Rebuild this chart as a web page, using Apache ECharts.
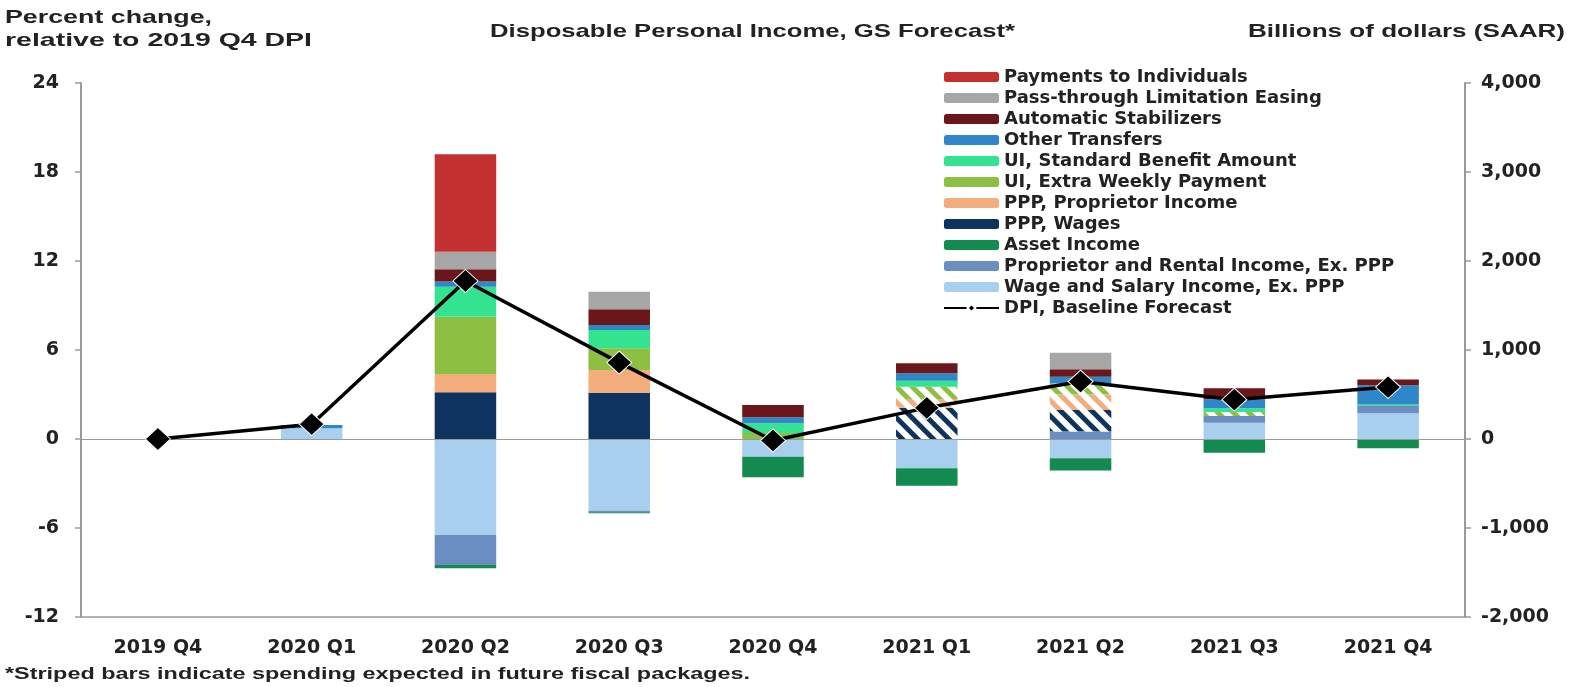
<!DOCTYPE html>
<html>
<head>
<meta charset="utf-8">
<script src="https://cdn.jsdelivr.net/npm/echarts@6/dist/echarts.min.js"></script>
<style>
html,body{margin:0;padding:0;background:#fff;}
#chart{width:1573px;height:687px;}
</style>
</head>
<body>
<div id="chart"></div>
<script>
// ---- data (percent of 2019 Q4 DPI) ----
const categories = ['2019 Q4','2020 Q1','2020 Q2','2020 Q3','2020 Q4','2021 Q1','2021 Q2','2021 Q3','2021 Q4'];
const wageSalary      = [0, 0.72, -6.47, -4.83, -1.19, -1.98, -1.30, 1.10, 1.73];
const proprietorRental= [0, 0,    -2.03, -0.10,  0,     0,     0.50, 0.45, 0.50];
const assetIncome     = [0, 0,    -0.22, -0.07, -1.39, -1.17, -0.83, -0.92, -0.63];
const pppWages        = [0, 0,     3.15,  3.12,  0,     0,     0,    0,    0];
const pppWagesFuture  = [0, 0,     0,     0,     0,     2.10,  1.46, 0,    0];
const pppProprietor   = [0, 0,     1.23,  1.53,  0,     0,     0,    0,    0];
const pppPropFuture   = [0, 0,     0,     0,     0,     0.60,  1.04, 0,    0];
const uiExtra         = [0, 0,     3.87,  1.46,  0.40,  0,     0,    0,    0];
const uiExtraFuture   = [0, 0,     0,     0,     0,     0.83,  0.75, 0.27, 0];
const uiStandard      = [0, 0,     2.02,  1.24,  0.66,  0.40,  0,    0.25, 0.10];
const otherTransfers  = [0, 0.22,  0.34,  0.34,  0.40,  0.50,  0.45, 0.61, 1.30];
const autoStabilizers = [0, 0,     0.83,  1.05,  0.83,  0.67,  0.50, 0.74, 0.38];
const passThrough     = [0, 0,     1.19,  1.19,  0,     0,     1.12, 0,    0];
const paymentsIndiv   = [0, 0,     6.57,  0,     0,     0,     0,    0,    0];
const dpiBaseline     = [0, 1.00, 10.65,  5.15, -0.10,  2.10,  3.87, 2.65, 3.50];
const leftTicks  = [-12, 24, 6];      // min, max, interval
const rightTicks = [-2000, 4000, 1000];

const C = {
  pay:'#c2312f', pass:'#a6a6a6', auto:'#6b1719', other:'#2f86c8', uiStd:'#34e38f',
  uiExtra:'#8cbf42', pppProp:'#f3ac7b', pppW:'#0e335e', asset:'#138a50',
  prop:'#6a8dc2', wage:'#a8cfee'
};
const FONT = '"DejaVu Sans", Verdana, sans-serif';
const TXT = '#222222';
const W = 'bold';

// horizontally stretched header texts (the reference text is wide)
const measureCtx = document.createElement('canvas').getContext('2d');
function wideText(text, x, y, fontSize, targetWidth) {
  const font = 'bold ' + fontSize + 'px "Liberation Sans", Arial, sans-serif';
  measureCtx.font = font;
  const w = measureCtx.measureText(text).width;
  return {type:'text', x:x, y:y, scaleX: targetWidth / w, silent:true,
          style:{text:text, font:font, fill:TXT, textVerticalAlign:'top', textAlign:'left'}};
}

function bar(name, data, color, extra) {
  return Object.assign({
    name, type:'bar', stack:'s', data, barWidth:'40%',
    itemStyle:{color}, emphasis:{disabled:true}
  }, extra || {});
}
function hatched(name, data, color) {
  return {
    name, type:'bar', stack:'s', data, barWidth:'40%', emphasis:{disabled:true},
    itemStyle:{
      color:'#ffffff',
      decal:{symbol:'rect', symbolSize:1, dashArrayX:[1,0], dashArrayY:[5,6],
             rotation:Math.PI/4, color:color}
    }
  };
}

const chart = echarts.init(document.getElementById('chart'), null, {renderer:'canvas'});
chart.setOption({
  animation:false,
  backgroundColor:'#ffffff',
  textStyle:{fontFamily:FONT},
  graphic:[
    wideText('Percent change,', 5, 8, 19, 207),
    wideText('relative to 2019 Q4 DPI', 5, 31, 19, 307),
    wideText('Disposable Personal Income, GS Forecast*', 490, 22, 19, 525),
    wideText('Billions of dollars (SAAR)', 1248, 22, 19, 317),
    wideText('*Striped bars indicate spending expected in future fiscal packages.', 5, 667, 16, 745)
  ],
  legend:{
    orient:'vertical', left:938, top:63, itemWidth:55, itemHeight:10, itemGap:3,
    textStyle:{fontFamily:FONT, fontSize:18, fontWeight:W, color:TXT},
    data:['Payments to Individuals','Pass-through Limitation Easing','Automatic Stabilizers',
          'Other Transfers','UI, Standard Benefit Amount','UI, Extra Weekly Payment',
          'PPP, Proprietor Income','PPP, Wages','Asset Income',
          'Proprietor and Rental Income, Ex. PPP','Wage and Salary Income, Ex. PPP',
          'DPI, Baseline Forecast'],
    selectedMode:false
  },
  grid:{left:81, right:108, top:83, bottom:70},
  xAxis:{
    type:'category', data:categories,
    axisLine:{onZero:false, lineStyle:{color:'#9a9a9a', width:1.5}},
    axisTick:{show:false},
    axisLabel:{fontFamily:FONT, fontSize:19, fontWeight:W, color:TXT, margin:22}
  },
  yAxis:[
    {type:'value', min:leftTicks[0], max:leftTicks[1], interval:leftTicks[2],
     axisLine:{show:true, lineStyle:{color:'#9a9a9a', width:2}},
     axisTick:{show:true, length:6, lineStyle:{color:'#9a9a9a', width:1.5}},
     splitLine:{show:false},
     axisLabel:{fontFamily:FONT, fontSize:19, fontWeight:W, color:TXT, margin:22}},
    {type:'value', min:rightTicks[0], max:rightTicks[1], interval:rightTicks[2],
     position:'right',
     axisLine:{show:true, lineStyle:{color:'#9a9a9a', width:2}},
     axisTick:{show:true, length:6, lineStyle:{color:'#9a9a9a', width:1.5}},
     splitLine:{show:false},
     axisLabel:{fontFamily:FONT, fontSize:19, fontWeight:W, color:TXT, margin:16,
       formatter:v => v.toLocaleString('en-US')}}
  ],
  series:[
    bar('Wage and Salary Income, Ex. PPP', wageSalary, C.wage, {
      markLine:{silent:true, symbol:'none', label:{show:false},
        lineStyle:{color:'#9a9a9a', width:1, type:'solid'}, data:[{yAxis:0}]}
    }),
    bar('Proprietor and Rental Income, Ex. PPP', proprietorRental, C.prop),
    bar('Asset Income', assetIncome, C.asset),
    bar('PPP, Wages', pppWages, C.pppW),
    hatched('PPP, Wages (future)', pppWagesFuture, C.pppW),
    bar('PPP, Proprietor Income', pppProprietor, C.pppProp),
    hatched('PPP, Proprietor Income (future)', pppPropFuture, C.pppProp),
    bar('UI, Extra Weekly Payment', uiExtra, C.uiExtra),
    hatched('UI, Extra Weekly Payment (future)', uiExtraFuture, C.uiExtra),
    bar('UI, Standard Benefit Amount', uiStandard, C.uiStd),
    bar('Other Transfers', otherTransfers, C.other),
    bar('Automatic Stabilizers', autoStabilizers, C.auto),
    bar('Pass-through Limitation Easing', passThrough, C.pass),
    bar('Payments to Individuals', paymentsIndiv, C.pay),
    {name:'DPI, Baseline Forecast', type:'line', data:dpiBaseline, z:10,
     symbol:'diamond', symbolSize:[25,23], showSymbol:true,
     lineStyle:{color:'#000', width:3.5},
     itemStyle:{color:'#000', borderColor:'#ffffff', borderWidth:1},
     emphasis:{disabled:true}}
  ]
});
</script>
</body>
</html>
